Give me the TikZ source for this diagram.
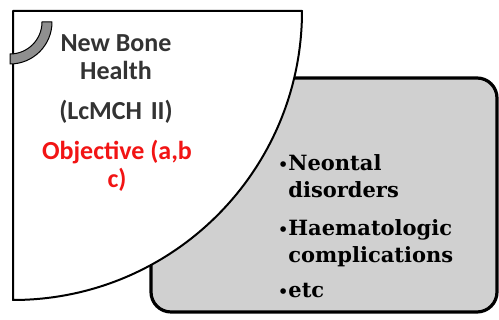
\documentclass[tikz,border=0pt]{standalone}
\usepackage{fontspec}
\usepackage{tikz}
\newfontfamily\headfont{Carlito}
\newfontfamily\itemfont{DejaVu Serif}
\definecolor{boxgray}{HTML}{D0D0D0}
\definecolor{ringgray}{HTML}{8F8F8F}
\definecolor{headgray}{HTML}{333333}
\definecolor{objred}{HTML}{F21414}
\newcommand{\itembul}{\llap{{\fontsize{8}{8}\selectfont\textbullet}}}

\begin{document}
\begin{tikzpicture}[x=0.5pt,y=0.5pt,line join=round,
  headtext/.style={anchor=base,inner sep=0pt,align=center,text=headgray,font=\headfont\bfseries\fontsize{13}{14}\selectfont},
  objtext/.style={headtext,text=objred},
  itemtext/.style={anchor=base west,inner sep=0pt,align=left,font=\itemfont\bfseries\fontsize{10.5}{13.5}\selectfont}]
\useasboundingbox (0,0) rectangle (499,320);
% grey box behind
\draw[line width=1.6pt,fill=boxgray,rounded corners=10pt] (151,8) rectangle (497,242);
% quarter disc
\draw[line width=1pt,fill=white] (13,309)--(302,309) arc[start angle=0,end angle=-90,radius=289]--cycle;
% small ring in the corner
\draw[line width=.5pt,fill=ringgray] (52,298) arc[start angle=0,end angle=-90,radius=42]--(10,266) arc[start angle=-90,end angle=0,radius=32]--cycle;
\node[headtext] (title) at (116,240) {New Bone\\Health};
\node[headtext] (code) at (116,200) {(LcMCH\,\,II)};
\node[objtext] (obj) at (117,132) {Objective (a,b\\c)};
\node[itemtext] (neo) at (288,122) {\itembul Neontal\\disorders};
\node[itemtext] (haem) at (288,57) {\itembul Haematologic\\complications};
\node[itemtext] (etc) at (288,22) {\itembul etc};
\end{tikzpicture}
\end{document}
